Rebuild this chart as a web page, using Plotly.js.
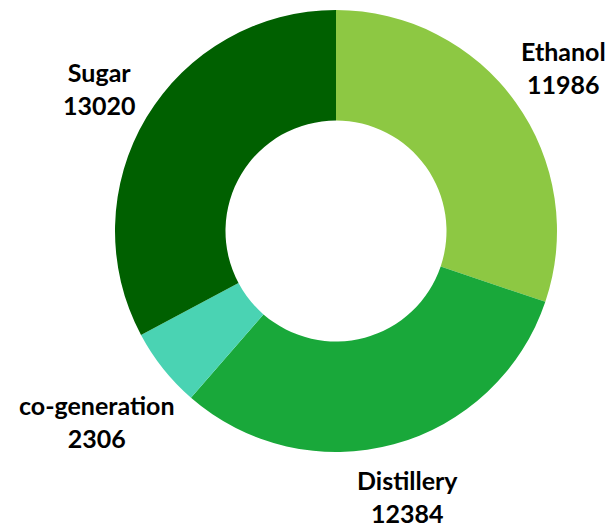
<!DOCTYPE html>
<html>
<head>
<meta charset="utf-8">
<script src="https://cdn.plot.ly/plotly-3.0.1.min.js"></script>
<style>html,body{margin:0;padding:0;background:#fff;}#chart{width:614px;height:530px;}</style>
</head>
<body>
<div id="chart"></div>
<script>
const categories = ["Ethanol", "Distillery", "co-generation", "Sugar"];
const values = [11986, 12384, 2306, 13020];
const colors = ["#8DC843", "#19A83A", "#4AD3B3", "#006000"];

const FONT = "Lato, 'Open Sans', sans-serif";
const FONT_SIZE = 25;
const margin = {l: 115, r: 57, t: 10, b: 78};
const W = 614, H = 530;
const plotW = W - margin.l - margin.r;
const plotH = H - margin.t - margin.b;
const cx = margin.l + plotW / 2;
const cy = margin.t + plotH / 2;
const R = Math.min(plotW, plotH) / 2;
const GAP = 20;

// text measurement for label placement
const ctx = document.createElement("canvas").getContext("2d");
ctx.font = "bold " + FONT_SIZE + "px Lato";
function tw(s) { return ctx.measureText(s).width; }

const total = values.reduce((a, b) => a + b, 0);
let cum = 0;
const annotations = categories.map((cat, i) => {
  const mid = (cum + values[i] / 2) / total * 2 * Math.PI;
  cum += values[i];
  const ux = Math.sin(mid), uy = -Math.cos(mid);
  const w = Math.max(tw(cat), tw(String(values[i])));
  const h = FONT_SIZE * 1.3 * 2;
  const d = Math.sqrt(Math.pow(w / 2 * ux, 2) + Math.pow(h / 2 * uy, 2));
  const px = cx + ux * (R + GAP + d);
  const py = cy + uy * (R + GAP + d);
  return {
    xref: "paper", yref: "paper",
    x: (px - margin.l) / plotW,
    y: 1 - (py - margin.t) / plotH,
    xanchor: "center", yanchor: "middle",
    showarrow: false,
    align: "center",
    text: "<b>" + cat + "</b><br><b>" + values[i] + "</b>",
    font: {family: FONT, size: FONT_SIZE, color: "#000"}
  };
});

const trace = {
  type: "pie",
  labels: categories,
  values: values,
  hole: 0.5,
  sort: false,
  direction: "clockwise",
  rotation: 0,
  marker: {colors: colors, line: {width: 0}},
  textinfo: "none",
  hoverinfo: "label+value",
  showlegend: false
};

const layout = {
  width: W,
  height: H,
  margin: Object.assign({autoexpand: false}, margin),
  paper_bgcolor: "#fff",
  showlegend: false,
  annotations: annotations
};

Plotly.newPlot("chart", [trace], layout, {displayModeBar: false, staticPlot: true});
</script>
</body>
</html>
